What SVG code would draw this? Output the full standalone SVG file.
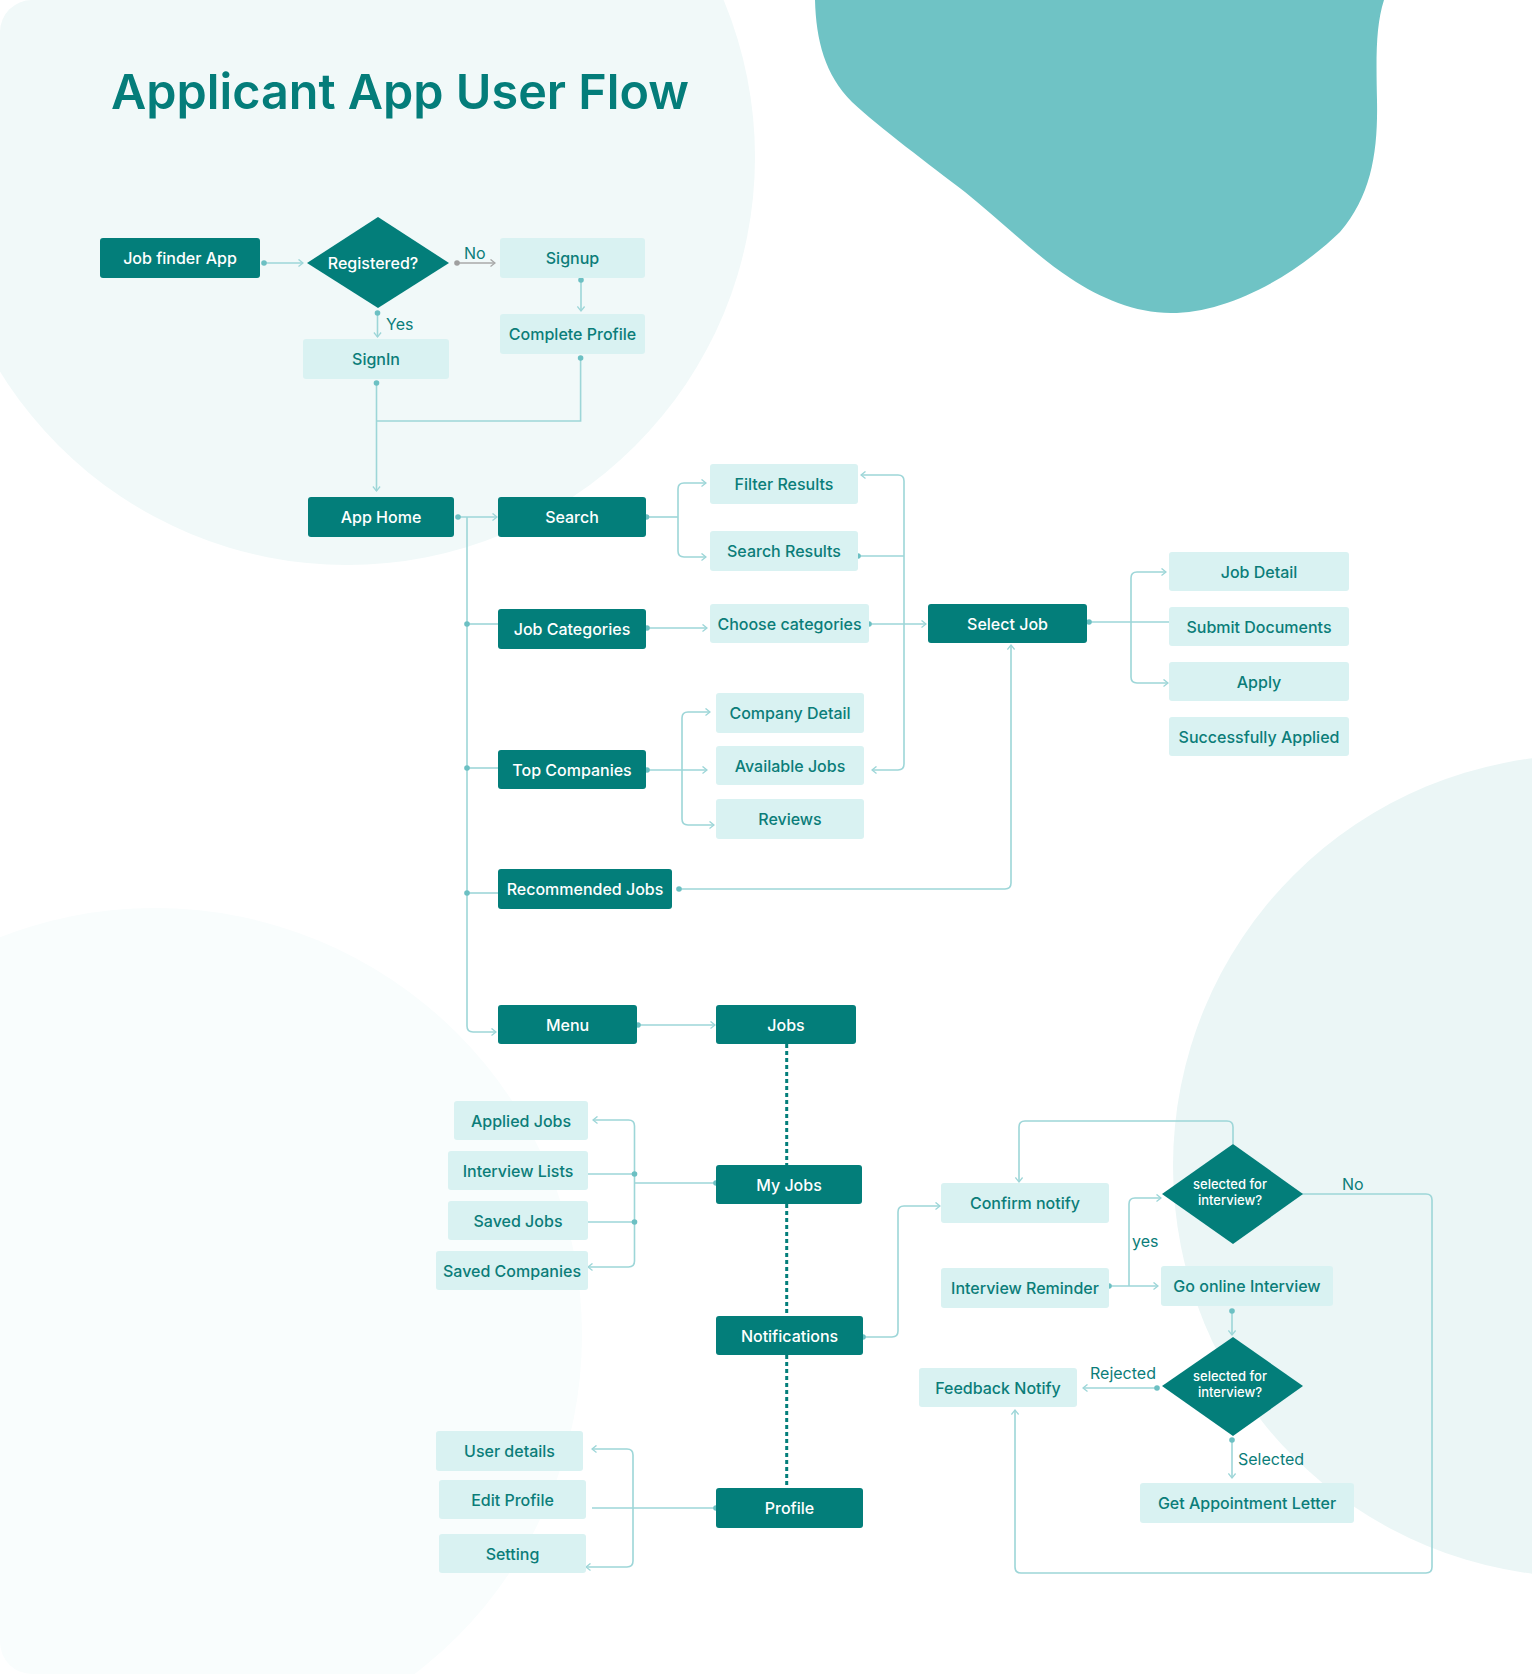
<svg xmlns="http://www.w3.org/2000/svg" width="1532" height="1674" viewBox="0 0 1532 1674">
<defs>
<style>
.dk{fill:#037e7a}
.lt{fill:#d9f2f2}
.td{fill:#ffffff;font-family:Inter,'Liberation Sans',sans-serif;font-size:16px;font-weight:500;text-anchor:middle}
.tl{fill:#0b7d79;font-family:Inter,'Liberation Sans',sans-serif;font-size:16px;font-weight:500;text-anchor:middle}
.ts{fill:#ffffff;font-family:Inter,'Liberation Sans',sans-serif;font-size:13px;font-weight:500;text-anchor:middle}
.lab{fill:#0b7d79;font-family:Inter,'Liberation Sans',sans-serif;font-size:16px;font-weight:400}
.c{fill:none;stroke:#9dd6d8;stroke-width:1.6}
.ca{fill:none;stroke:#9dd6d8;stroke-width:1.6;marker-end:url(#arr)}
.dot{fill:#6cc0c3}
.dash{fill:none;stroke:#037e7a;stroke-width:3;stroke-dasharray:4 3}
</style>
<marker id="arr" viewBox="0 0 10 10" refX="9" refY="5" markerWidth="9" markerHeight="9" orient="auto" markerUnits="userSpaceOnUse">
<path d="M4,1 L9,5 L4,9" fill="none" stroke="#9dd6d8" stroke-width="1.4"/>
</marker>
<marker id="arrg" viewBox="0 0 10 10" refX="9" refY="5" markerWidth="9" markerHeight="9" orient="auto" markerUnits="userSpaceOnUse">
<path d="M4,1 L9,5 L4,9" fill="none" stroke="#a8a8a8" stroke-width="1.4"/>
</marker>
<clipPath id="page"><rect x="0" y="0" width="1532" height="1674" rx="32"/></clipPath>
</defs>

<rect x="0" y="0" width="1532" height="1674" fill="#ffffff"/>
<g id="background" clip-path="url(#page)">
<circle cx="155" cy="1335" r="427" fill="#f9fdfd"/>
<circle cx="347" cy="157" r="408" fill="#f1f9f9"/>
<circle cx="1584" cy="1166" r="411" fill="#ebf6f6"/>
<path d="M815,0 C816,40 825,75 852,102 C880,128 930,165 965,192 C1000,220 1035,255 1070,278 C1100,298 1135,313 1171,313 C1225,313 1290,280 1340,232 C1372,195 1378,150 1377,100 C1376,55 1376,25 1384,0 Z" fill="#6fc3c5"/>
</g>

<text x="111" y="109" fill="#047d7a" font-family="Inter,'Liberation Sans',sans-serif" font-size="48.5" font-weight="600">Applicant App User Flow</text>

<g id="connectors">
<path class="ca" d="M264,263 H303"/>
<path d="M457,263 H495" fill="none" stroke="#a8a8a8" stroke-width="1.6" marker-end="url(#arrg)"/>
<path class="ca" d="M581,280 V311"/>
<path class="ca" d="M377.5,313 V337"/>
<path class="ca" d="M376.5,383 V491"/>
<path class="c" d="M580.6,358 V421 H376.5"/>
<path class="ca" d="M458,517 H497"/>
<path class="ca" d="M467,517 V1026 Q467,1032 473,1032 H496"/>
<path class="c" d="M467,624 H498"/>
<path class="c" d="M467,768 H498"/>
<path class="c" d="M467,893 H498"/>
<path class="c" d="M646.5,517 H678"/>
<path class="ca" d="M678,517 V489 Q678,483 684,483 H706"/>
<path class="ca" d="M678,517 V551 Q678,557 684,557 H706"/>
<path class="ca" d="M647,628 H707"/>
<path class="ca" d="M869,624 H926"/>
<path class="c" d="M858,556 H904"/>
<path class="ca" d="M904,556 V481 Q904,475 898,475 H861"/>
<path class="ca" d="M904,556 V764 Q904,770 898,770 H872"/>
<path class="ca" d="M647,770 H707"/>
<path class="ca" d="M682,770 V718 Q682,712 688,712 H710"/>
<path class="ca" d="M682,770 V819 Q682,825 688,825 H714"/>
<path class="ca" d="M679,889 H1005 Q1011,889 1011,883 V645"/>
<path class="c" d="M1089,622 H1169"/>
<path class="ca" d="M1131,622 V578 Q1131,572 1137,572 H1166"/>
<path class="ca" d="M1131,622 V677 Q1131,683 1137,683 H1168"/>
<path class="ca" d="M638,1025 H715"/>
<path class="dash" d="M786.7,1044 V1165"/>
<path class="dash" d="M786.7,1204 V1316"/>
<path class="dash" d="M786.7,1355 V1488"/>
<path class="c" d="M716,1183 H634.5"/>
<path class="ca" d="M634.5,1183 V1126 Q634.5,1120 628.5,1120 H593"/>
<path class="ca" d="M634.5,1183 V1261 Q634.5,1267 628.5,1267 H588"/>
<path class="c" d="M588,1174 H634.5"/>
<path class="c" d="M588,1222 H634.5"/>
<path class="c" d="M716,1508 H592"/>
<path class="ca" d="M633,1508 V1455 Q633,1449 627,1449 H592"/>
<path class="ca" d="M633,1508 V1561 Q633,1567 627,1567 H586"/>
<path class="ca" d="M863,1337 H892 Q898,1337 898,1331 V1212 Q898,1206 904,1206 H940"/>
<path class="ca" d="M1233,1144 V1127 Q1233,1121 1227,1121 H1025 Q1019,1121 1019,1127 V1182"/>
<path class="ca" d="M1109,1286 H1158"/>
<path class="ca" d="M1129,1286 V1204 Q1129,1198 1135,1198 H1161"/>
<path class="ca" d="M1297,1194 H1426 Q1432,1194 1432,1200 V1567 Q1432,1573 1426,1573 H1021 Q1015,1573 1015,1567 V1410"/>
<path class="ca" d="M1232,1311 V1335"/>
<path class="ca" d="M1157,1388 H1083"/>
<path class="ca" d="M1232,1440 V1478"/>
<g id="dots">
<circle class="dot" cx="264" cy="263" r="2.8"/>
<circle cx="457" cy="263" r="2.8" fill="#a0a0a0"/>
<circle class="dot" cx="581" cy="280" r="2.8"/>
<circle class="dot" cx="377.5" cy="313" r="2.8"/>
<circle class="dot" cx="376.5" cy="383" r="2.8"/>
<circle class="dot" cx="580.6" cy="358" r="2.8"/>
<circle class="dot" cx="458" cy="517" r="2.8"/>
<circle class="dot" cx="467" cy="624" r="2.8"/>
<circle class="dot" cx="467" cy="768" r="2.8"/>
<circle class="dot" cx="467" cy="893" r="2.8"/>
<circle class="dot" cx="646.5" cy="517" r="2.8"/>
<circle class="dot" cx="647" cy="628" r="2.8"/>
<circle class="dot" cx="869" cy="624" r="2.8"/>
<circle class="dot" cx="858" cy="556" r="2.8"/>
<circle class="dot" cx="647" cy="770" r="2.8"/>
<circle class="dot" cx="679" cy="889" r="2.8"/>
<circle class="dot" cx="1089" cy="622" r="2.8"/>
<circle class="dot" cx="638" cy="1025" r="2.8"/>
<circle class="dot" cx="716" cy="1183" r="2.8"/>
<circle class="dot" cx="634.5" cy="1174" r="2.8"/>
<circle class="dot" cx="634.5" cy="1222" r="2.8"/>
<circle class="dot" cx="716" cy="1508" r="2.8"/>
<circle class="dot" cx="863" cy="1337" r="2.8"/>
<circle class="dot" cx="1109" cy="1286" r="2.8"/>
<circle class="dot" cx="1297" cy="1194" r="2.8"/>
<circle class="dot" cx="1232" cy="1311" r="2.8"/>
<circle class="dot" cx="1157" cy="1388" r="2.8"/>
<circle class="dot" cx="1232" cy="1440" r="2.8"/>
</g>
<text class="lab" x="464" y="259">No</text>
<text class="lab" x="386" y="330">Yes</text>
<text class="lab" x="1132" y="1247">yes</text>
<text class="lab" x="1342" y="1190">No</text>
<text class="lab" x="1090" y="1379">Rejected</text>
<text class="lab" x="1238" y="1465">Selected</text>
</g>

<g id="n-jobfinder"><rect class="dk" x="100" y="238" width="160" height="40" rx="3"/><text class="td" x="180" y="264">Job finder App</text></g>
<g id="n-registered"><polygon class="dk" points="378,217 449,263 378,308 307,263"/><text class="td" x="373" y="269">Registered?</text></g>
<g id="n-signup"><rect class="lt" x="500" y="238" width="145" height="40" rx="3"/><text class="tl" x="572.5" y="264">Signup</text></g>
<g id="n-complete"><rect class="lt" x="500" y="314" width="145" height="40" rx="3"/><text class="tl" x="572.5" y="340">Complete Profile</text></g>
<g id="n-signin"><rect class="lt" x="303" y="339" width="146" height="40" rx="3"/><text class="tl" x="376" y="365">SignIn</text></g>
<g id="n-apphome"><rect class="dk" x="308" y="497" width="146" height="40" rx="3"/><text class="td" x="381" y="523">App Home</text></g>
<g id="n-search"><rect class="dk" x="498" y="497" width="148" height="40" rx="3"/><text class="td" x="572" y="523">Search</text></g>
<g id="n-filter"><rect class="lt" x="710" y="464" width="148" height="40" rx="3"/><text class="tl" x="784" y="490">Filter Results</text></g>
<g id="n-searchres"><rect class="lt" x="710" y="531" width="148" height="40" rx="3"/><text class="tl" x="784" y="557">Search Results</text></g>
<g id="n-jobcat"><rect class="dk" x="498" y="609" width="148" height="40" rx="3"/><text class="td" x="572" y="635">Job Categories</text></g>
<g id="n-choose"><rect class="lt" x="710" y="604" width="159" height="39" rx="3"/><text class="tl" x="789.5" y="629.5">Choose categories</text></g>
<g id="n-selectjob"><rect class="dk" x="928" y="604" width="159" height="39" rx="3"/><text class="td" x="1007.5" y="629.5">Select Job</text></g>
<g id="n-jobdetail"><rect class="lt" x="1169" y="552" width="180" height="39" rx="3"/><text class="tl" x="1259" y="577.5">Job Detail</text></g>
<g id="n-submit"><rect class="lt" x="1169" y="607" width="180" height="39" rx="3"/><text class="tl" x="1259" y="632.5">Submit Documents</text></g>
<g id="n-apply"><rect class="lt" x="1169" y="662" width="180" height="39" rx="3"/><text class="tl" x="1259" y="687.5">Apply</text></g>
<g id="n-success"><rect class="lt" x="1169" y="717" width="180" height="39" rx="3"/><text class="tl" x="1259" y="742.5">Successfully Applied</text></g>
<g id="n-topcomp"><rect class="dk" x="498" y="750" width="148" height="39" rx="3"/><text class="td" x="572" y="775.5">Top Companies</text></g>
<g id="n-compdetail"><rect class="lt" x="716" y="693" width="148" height="40" rx="3"/><text class="tl" x="790" y="719">Company Detail</text></g>
<g id="n-availjobs"><rect class="lt" x="716" y="746" width="148" height="39" rx="3"/><text class="tl" x="790" y="771.5">Available Jobs</text></g>
<g id="n-reviews"><rect class="lt" x="716" y="799" width="148" height="40" rx="3"/><text class="tl" x="790" y="825">Reviews</text></g>
<g id="n-recommended"><rect class="dk" x="498" y="869" width="174" height="40" rx="3"/><text class="td" x="585" y="895">Recommended Jobs</text></g>
<g id="n-menu"><rect class="dk" x="498" y="1005" width="139" height="39" rx="3"/><text class="td" x="567.5" y="1030.5">Menu</text></g>
<g id="n-jobs"><rect class="dk" x="716" y="1005" width="140" height="39" rx="3"/><text class="td" x="786" y="1030.5">Jobs</text></g>
<g id="n-myjobs"><rect class="dk" x="716" y="1165" width="146" height="39" rx="3"/><text class="td" x="789" y="1190.5">My Jobs</text></g>
<g id="n-applied"><rect class="lt" x="454" y="1101" width="134" height="39" rx="3"/><text class="tl" x="521" y="1126.5">Applied Jobs</text></g>
<g id="n-interview"><rect class="lt" x="448" y="1151" width="140" height="39" rx="3"/><text class="tl" x="518" y="1176.5">Interview Lists</text></g>
<g id="n-savedjobs"><rect class="lt" x="448" y="1201" width="140" height="39" rx="3"/><text class="tl" x="518" y="1226.5">Saved Jobs</text></g>
<g id="n-savedcomp"><rect class="lt" x="436" y="1251" width="152" height="39" rx="3"/><text class="tl" x="512" y="1276.5">Saved Companies</text></g>
<g id="n-notifications"><rect class="dk" x="716" y="1316" width="147" height="39" rx="3"/><text class="td" x="789.5" y="1341.5">Notifications</text></g>
<g id="n-profile"><rect class="dk" x="716" y="1488" width="147" height="40" rx="3"/><text class="td" x="789.5" y="1514">Profile</text></g>
<g id="n-userdetails"><rect class="lt" x="436" y="1431" width="147" height="40" rx="3"/><text class="tl" x="509.5" y="1457">User details</text></g>
<g id="n-editprofile"><rect class="lt" x="439" y="1480" width="147" height="39" rx="3"/><text class="tl" x="512.5" y="1505.5">Edit Profile</text></g>
<g id="n-setting"><rect class="lt" x="439" y="1534" width="147" height="39" rx="3"/><text class="tl" x="512.5" y="1559.5">Setting</text></g>
<g id="n-confirm"><rect class="lt" x="941" y="1183" width="168" height="40" rx="3"/><text class="tl" x="1025" y="1209">Confirm notify</text></g>
<g id="n-reminder"><rect class="lt" x="941" y="1268" width="168" height="40" rx="3"/><text class="tl" x="1025" y="1294">Interview Reminder</text></g>
<g id="n-online"><rect class="lt" x="1161" y="1266" width="172" height="40" rx="3"/><text class="tl" x="1247" y="1292">Go online Interview</text></g>
<g id="n-sel1"><polygon class="dk" points="1233,1144 1303,1194 1233,1244 1162,1194"/><text class="ts" x="1230" y="1189">selected for</text><text class="ts" x="1230" y="1205">interview?</text></g>
<g id="n-sel2"><polygon class="dk" points="1233,1337 1303,1386 1233,1436 1162,1386"/><text class="ts" x="1230" y="1381">selected for</text><text class="ts" x="1230" y="1397">interview?</text></g>
<g id="n-feedback"><rect class="lt" x="919" y="1368" width="158" height="39" rx="3"/><text class="tl" x="998" y="1393.5">Feedback Notify</text></g>
<g id="n-appointment"><rect class="lt" x="1140" y="1483" width="214" height="40" rx="3"/><text class="tl" x="1247" y="1509">Get Appointment Letter</text></g>
</svg>
